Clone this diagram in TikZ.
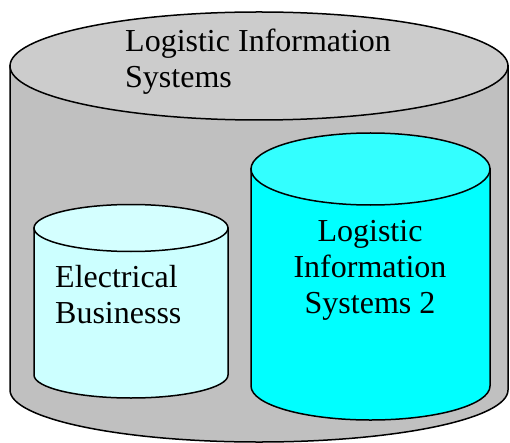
\documentclass[tikz,border=0pt]{standalone}
\usepackage{fontspec}
\setmainfont{Liberation Serif}
\definecolor{outerbody}{HTML}{C0C0C0}
\definecolor{outertop}{HTML}{CCCCCC}
\definecolor{palebody}{HTML}{CCFFFF}
\definecolor{paletop}{HTML}{D4FFFF}
\definecolor{cyanbody}{HTML}{00FFFF}
\definecolor{cyantop}{HTML}{33FFFF}
\begin{document}
\begin{tikzpicture}[x=1pt,y=1pt,
  rim/.style={draw=black,line width=1.5pt},
  label/.style={font=\fontsize{32}{36}\selectfont,inner sep=0pt}]
\useasboundingbox (0,0) rectangle (510,442);

% outer database cylinder
\path[rim,fill=outerbody] (10,376) -- (10,52)
  arc[start angle=180,end angle=360,x radius=249,y radius=52] -- (508,376) -- cycle;
\path[rim,fill=outertop] (259,376) ellipse[x radius=249,y radius=54];

% small pale cylinder
\path[rim,fill=palebody] (34,214) -- (34,67)
  arc[start angle=180,end angle=360,x radius=97,y radius=23] -- (228,214) -- cycle;
\path[rim,fill=paletop] (131,214) ellipse[x radius=97,y radius=23.5];

% large cyan cylinder
\path[rim,fill=cyanbody] (251,273) -- (251,56)
  arc[start angle=180,end angle=360,x radius=119.5,y radius=34] -- (490,273) -- cycle;
\path[rim,fill=cyantop] (370.5,273) ellipse[x radius=119.5,y radius=36];

% labels (base anchor sits on the last line)
\node[label,align=left,anchor=base west] (outer) at (125,354)
  {Logistic Information\\Systems};
\node[label,align=left,anchor=base west] (elec) at (55,119)
  {Electrical\\Businesss};
\node[label,align=center,anchor=base] (lis2) at (370,129)
  {Logistic\\Information\\Systems 2};
\end{tikzpicture}
\end{document}
